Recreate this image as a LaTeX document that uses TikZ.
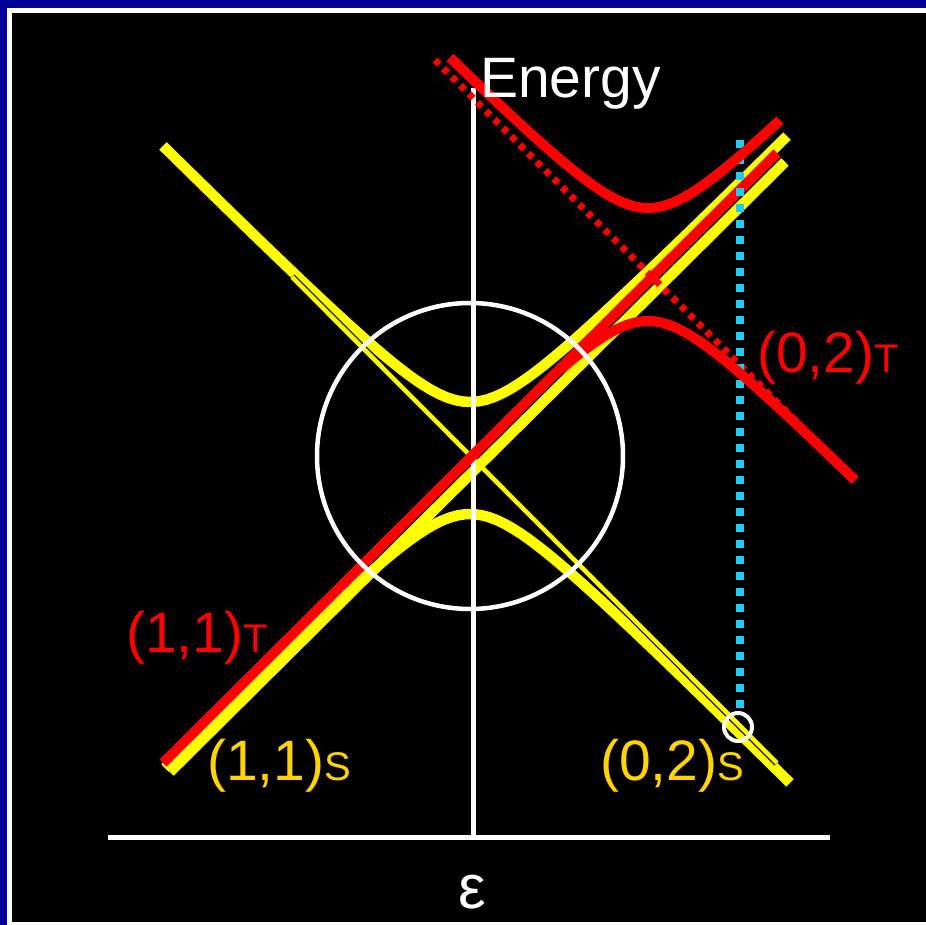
\documentclass[tikz,border=0pt]{standalone}
\usepackage{fontspec}
\setmainfont{Liberation Sans}
\usepackage{xcolor}
\usepackage{tikz}

\definecolor{slideblue}{RGB}{0,0,153}
\definecolor{levelred}{RGB}{255,0,0}
\definecolor{levelyellow}{RGB}{255,255,0}
\definecolor{labelgold}{RGB}{255,212,0}
\definecolor{detuncyan}{RGB}{34,204,238}

\newcommand{\statesub}[1]{{\fontsize{40}{42}\selectfont #1}}

\begin{document}
\begin{tikzpicture}[
    x=1pt, y=-1pt,
    axis/.style={draw=white, line width=5pt},
    singlet/.style={draw=levelyellow, line width=10.5pt},
    singletthin/.style={draw=levelyellow, line width=4.5pt, preaction={draw=black, line width=7pt}},
    triplet/.style={draw=levelred, line width=10pt},
    tripletdots/.style={draw=levelred, line width=7pt, dash pattern=on 6pt off 6pt},
    detuning/.style={draw=detuncyan, line width=8pt, dash pattern=on 8pt off 8pt},
    statelabel/.style={anchor=base west, inner sep=0pt, font=\fontsize{57}{60}\selectfont}
]

\useasboundingbox (0,0) rectangle (926,925);
\fill[slideblue] (0,0) rectangle (926,925);
\fill[white] (7,8) rectangle (926,925);
\fill[black] (12,13) rectangle (926,922);

\coordinate (top) at (473,88);
\coordinate (origin) at (473,837);
\coordinate (left) at (108,837);
\coordinate (right) at (830,837);

% singlet anticrossing
\draw[singlet] plot[domain=163:787, samples=80] (\x, {458-10*sqrt(5.6^2+((\x-470)/10)^2)});
\draw[singlet] plot[domain=165:790, samples=80] (\x, {458+10*sqrt(5.6^2+((\x-470)/10)^2)});
\draw[singletthin] (292,277) -- (777,763);
\draw[singlet] (170,772) -- (785,162);

% axes
\draw[axis] (top) -- (origin);
\draw[axis] (left) -- (right);

% triplet levels
\draw[tripletdots] (435,60) -- (855,480);
\draw[triplet] (163,763) -- (777,153);
\draw[detuning] (740,140) -- (740,716);
\draw[triplet] plot[domain=450:780, samples=80] (\x, {263-10*sqrt(5.5^2+((\x-648)/10)^2)});
\draw[triplet] plot[domain=560:855, samples=80] (\x, {266+10*sqrt(5.5^2+((\x-648)/10)^2)});

\draw[white, line width=4.5pt] (470,456) circle [radius=153pt];
\draw[white, line width=4pt] (738,727) circle [radius=14pt];

\node[statelabel, text=white, font=\fontsize{57}{60}\selectfont] (energy) at (480,98) {Energy};
\node[anchor=base, inner sep=0pt, text=white, font=\fontsize{62}{66}\selectfont] (eps) at (472.5,908) {ε};
\node[statelabel, text=levelred] (t11) at (126,652) {(1,1)\statesub{T}};
\node[statelabel, text=labelgold] (s11) at (207,780) {(1,1)\statesub{S}};
\node[statelabel, text=labelgold] (s02) at (600,780) {(0,2)\statesub{S}};
\node[statelabel, text=levelred] (t02) at (757,372) {(0,2)\statesub{T}};

\end{tikzpicture}
\end{document}
